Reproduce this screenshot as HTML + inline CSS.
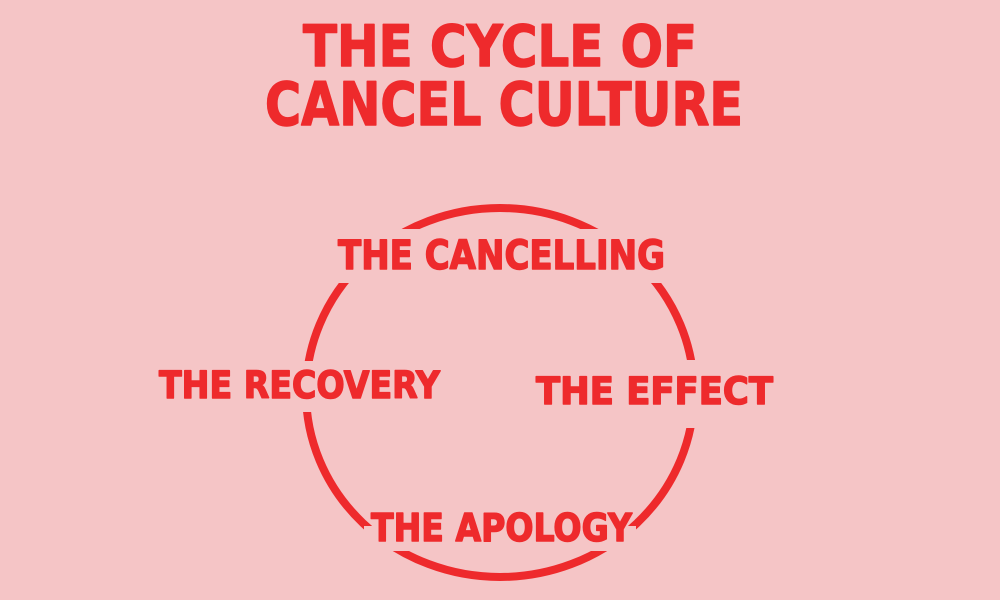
<!DOCTYPE html>
<html><head><meta charset="utf-8"><style>
html,body{margin:0;padding:0;background:#f5c5c6;}
svg{display:block;}
text{font-family:"DejaVu Sans","Liberation Sans",sans-serif;font-weight:bold;fill:#ee2a2c;stroke:#ee2a2c;stroke-width:1.5;stroke-linejoin:round;}
</style></head><body>
<svg width="1000" height="600" viewBox="0 0 1000 600" xmlns="http://www.w3.org/2000/svg">
<rect width="1000" height="600" fill="#f5c5c6"/>
<ellipse cx="500" cy="392.5" rx="194" ry="184.5" fill="none" stroke="#ee2a2c" stroke-width="8"/>
<rect x="300" y="229" width="400" height="54" fill="#f5c5c6"/>
<rect x="150" y="361" width="300" height="51" fill="#f5c5c6"/>
<rect x="530" y="360" width="250" height="68" fill="#f5c5c6"/>
<rect x="364" y="526" width="272" height="25" fill="#f5c5c6"/>
<text x="303" y="66" font-size="57" textLength="394" lengthAdjust="spacingAndGlyphs">THE CYCLE OF</text>
<text x="265" y="125" font-size="60" textLength="478" lengthAdjust="spacingAndGlyphs">CANCEL CULTURE</text>
<text x="338" y="269" font-size="40" textLength="327" lengthAdjust="spacingAndGlyphs">THE CANCELLING</text>
<text x="159" y="398" font-size="37" textLength="281" lengthAdjust="spacingAndGlyphs">THE RECOVERY</text>
<text x="536" y="404" font-size="37" textLength="237" lengthAdjust="spacingAndGlyphs">THE EFFECT</text>
<text x="371" y="541" font-size="38" textLength="261" lengthAdjust="spacingAndGlyphs">THE APOLOGY</text>
</svg>
</body></html>
